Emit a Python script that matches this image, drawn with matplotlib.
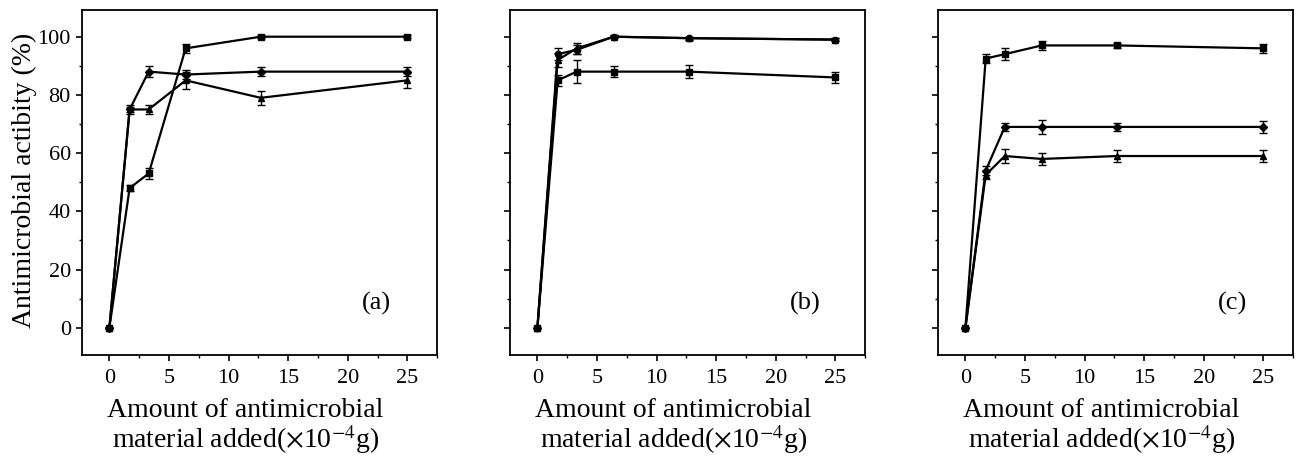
import numpy as np
import matplotlib
matplotlib.use("Agg")
import matplotlib.pyplot as plt
from matplotlib.ticker import MultipleLocator

plt.rcParams['font.family'] = ['Liberation Serif', 'DejaVu Serif']
plt.rcParams['mathtext.fontset'] = 'stix'

# amounts added (x10^-4 g)
x = [0, 1.7, 3.3, 6.4, 12.7, 25]

# panel (a)
a1 = [0, 48, 53, 96, 100, 100]
a1_err = [0, 1, 2, 1.5, 0.5, 0.5]
a2 = [0, 75, 88, 87, 88, 88]
a2_err = [0, 1, 2, 1.5, 1.5, 1.5]
a3 = [0, 75, 75, 85, 79, 85]
a3_err = [0, 1.5, 1.5, 3, 2.5, 2.5]

# panel (b)
b1 = [0, 94, 95.5, 100, 99.5, 99]
b1_err = [0, 2, 1.5, 0.5, 0.5, 0.5]
b2 = [0, 92, 96, 100, 99.5, 99]
b2_err = [0, 2.5, 2, 0.5, 0.5, 0.5]
b3 = [0, 85, 88, 88, 88, 86]
b3_err = [0, 2, 4, 1.8, 2.2, 1.8]

# panel (c)
c1 = [0, 92.5, 94, 97, 97, 96]
c1_err = [0, 1.5, 2, 1.5, 1, 1.5]
c2 = [0, 54, 69, 69, 69, 69]
c2_err = [0, 1.5, 1.5, 2.5, 1.5, 2]
c3 = [0, 52.5, 59, 58, 59, 59]
c3_err = [0, 1.5, 2.5, 2, 2, 2]

panels = [
    ("(a)", [(a1, a1_err, 's'), (a2, a2_err, 'D'), (a3, a3_err, '^')]),
    ("(b)", [(b1, b1_err, 'o'), (b2, b2_err, '^'), (b3, b3_err, 's')]),
    ("(c)", [(c1, c1_err, 's'), (c2, c2_err, 'D'), (c3, c3_err, '^')]),
]

fig = plt.figure(figsize=(13.01, 4.59), dpi=100)
lefts = [0.063, 0.392, 0.721]

for k, (tag, series) in enumerate(panels):
    ax = fig.add_axes([lefts[k], 0.227, 0.273, 0.752])
    for y, e, m in series:
        ax.errorbar(x, y, yerr=e, color='black', marker=m, markersize=4.5,
                    linewidth=1.6, elinewidth=1.0, capsize=3, capthick=1.0)
    ax.set_xlim(-2.3, 27.5)
    ax.set_ylim(-9.3, 109.3)
    ax.xaxis.set_major_locator(MultipleLocator(5))
    ax.xaxis.set_minor_locator(MultipleLocator(2.5))
    ax.yaxis.set_major_locator(MultipleLocator(20))
    ax.yaxis.set_minor_locator(MultipleLocator(10))
    ax.tick_params(which='major', direction='out', length=4, width=1.2,
                   labelsize=16, pad=6)
    ax.tick_params(axis='y', pad=4)
    ax.tick_params(which='minor', direction='out', length=2.5, width=1)
    for sp in ax.spines.values():
        sp.set_linewidth(1.3)
    if k > 0:
        ax.tick_params(axis='y', labelleft=False)
    else:
        ax.set_ylabel('Antimicrobial actibity (%)', fontsize=20)
        ax.yaxis.set_label_coords(-0.127, 0.505, transform=ax.transAxes)
    ax.set_xlabel('Amount of antimicrobial\nmaterial added($\\times$10$^{-4}$g)',
                  fontsize=20, linespacing=1.0)
    ax.xaxis.set_label_coords(0.46, -0.125, transform=ax.transAxes)
    ax.xaxis.label.set_va('top')
    ax.text(0.83, 0.15, tag, transform=ax.transAxes, fontsize=19,
            ha='center', va='center')

fig.savefig("out.png", dpi=100)
